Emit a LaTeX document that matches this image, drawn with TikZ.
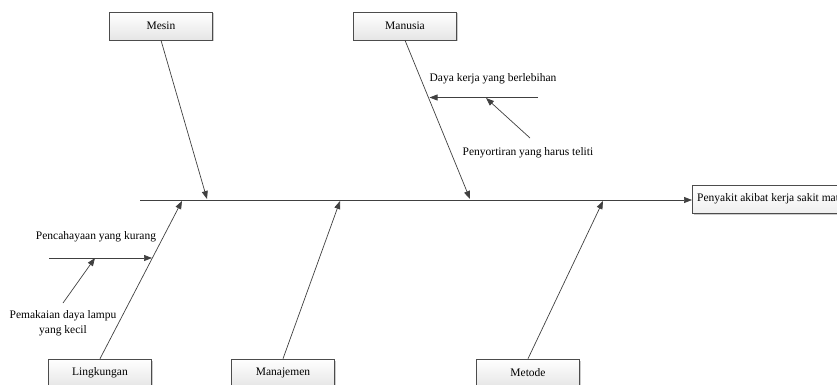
\documentclass[tikz,border=0pt]{standalone}
\usepackage{fontspec}
\setmainfont{Liberation Serif}
\usetikzlibrary{arrows.meta,shadows}
\begin{document}
\begin{tikzpicture}[x=1pt,y=-1pt,
  every node/.style={font=\fontsize{11.5}{15}\selectfont, text=black},
  catbox/.style={draw=black!70, line width=0.6pt, top color=white, bottom color=black!10,
     minimum width=103pt, minimum height=28pt, inner sep=0pt,
     drop shadow={shadow xshift=1.5pt, shadow yshift=-1.5pt, fill=black!25, opacity=0.8}},
  effbox/.style={draw=black!70, line width=0.6pt, top color=white, bottom color=black!6,
     minimum width=190pt, minimum height=28pt, inner sep=0pt,
     drop shadow={shadow xshift=1.5pt, shadow yshift=-1.5pt, fill=black!25, opacity=0.8}},
  bone/.style={draw=black!75, line width=0.7pt, -{Triangle[length=8pt,width=6pt]}},
  lbl/.style={inner sep=1pt, align=center}
]
\useasboundingbox (0,0) rectangle (837,385);
\clip (0,0) rectangle (837,385);

% category boxes
\node[catbox] (mesin) at (161,26) {Mesin};
\node[catbox] (manusia) at (405,26) {Manusia};
\node[catbox] (ling) at (100,373) {Lingkungan};
\node[catbox] (manaj) at (283,373) {Manajemen};
\node[catbox] (metode) at (528,373) {Metode};

% effect
\node[effbox, anchor=west] (eff) at (692,199) {};
\node[lbl, anchor=west] (efftxt) at (696,199) {Penyakit akibat kerja sakit mata};

% spine
\coordinate (spstart) at (140,200);
\draw[bone] (spstart) -- (eff.west |- spstart);

% spine contact points
\coordinate (pmesin) at (207,199);
\coordinate (pmanusia) at (470,199);
\coordinate (pling) at (182,201);
\coordinate (pmanaj) at (340,201);
\coordinate (pmetode) at (603,201);

\draw[bone] (mesin.south) -- (pmesin);
\draw[bone] (manusia.south) -- (pmanusia);
\draw[bone] (ling.north) -- (pling);
\draw[bone] (manaj.north) -- (pmanaj);
\draw[bone] (metode.north) -- (pmetode);

% Manusia sub-causes
\node[lbl] (daya) at (493,79) {Daya kerja yang berlebihan};
\coordinate (dayaS) at (538,97.5);
\coordinate (dayaE) at (429.5,97.5);
\draw[bone] (dayaS) -- (dayaE);
\node[lbl] (sortir) at (528,153) {Penyortiran yang harus teliti};
\coordinate (sortS) at (530,138);
\coordinate (sortE) at (486,98);
\draw[bone] (sortS) -- (sortE);

% Lingkungan sub-causes
\node[lbl] (cahaya) at (96,237) {Pencahayaan yang kurang};
\coordinate (cahS) at (49,258);
\coordinate (cahE) at (152,258);
\draw[bone] (cahS) -- (cahE);
\node[lbl] (lampu) at (63,323) {Pemakaian daya lampu\\yang kecil};
\coordinate (lampS) at (63,303);
\coordinate (lampE) at (95,258);
\draw[bone] (lampS) -- (lampE);
\end{tikzpicture}
\end{document}
